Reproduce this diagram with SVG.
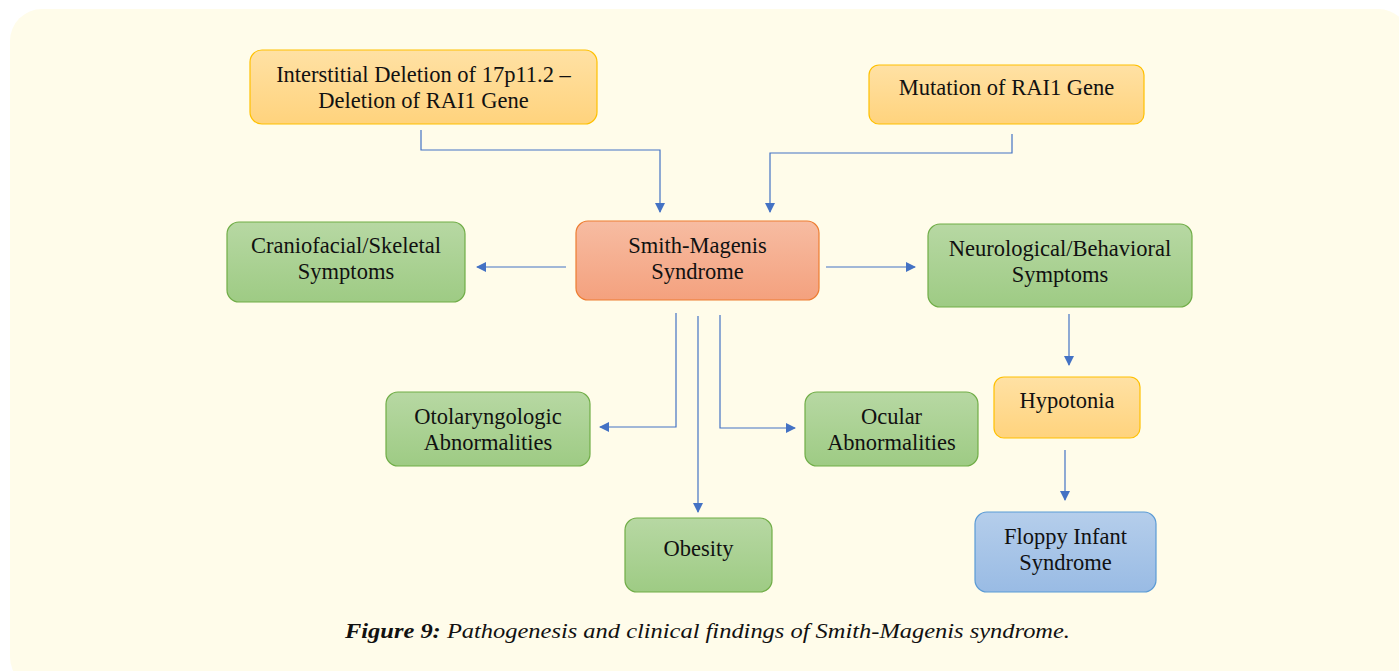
<svg xmlns="http://www.w3.org/2000/svg" width="1399" height="671" viewBox="0 0 1399 671">
  <defs>
    <linearGradient id="gOrange" x1="0" y1="0" x2="0" y2="1">
      <stop offset="0" stop-color="#FFE1A4"/>
      <stop offset="1" stop-color="#FFD37D"/>
    </linearGradient>
    <linearGradient id="gRed" x1="0" y1="0" x2="0" y2="1">
      <stop offset="0" stop-color="#F7BCA2"/>
      <stop offset="1" stop-color="#F4A17E"/>
    </linearGradient>
    <linearGradient id="gGreen" x1="0" y1="0" x2="0" y2="1">
      <stop offset="0" stop-color="#B7D8A3"/>
      <stop offset="1" stop-color="#9ECB84"/>
    </linearGradient>
    <linearGradient id="gBlue" x1="0" y1="0" x2="0" y2="1">
      <stop offset="0" stop-color="#B5CEEB"/>
      <stop offset="1" stop-color="#99BBE4"/>
    </linearGradient>
    <marker id="arrow" viewBox="0 0 10 10" refX="9" refY="5" markerWidth="10" markerHeight="10" markerUnits="userSpaceOnUse" orient="auto">
      <path d="M0,0 L10,5 L0,10 z" fill="#4472C4"/>
    </marker>
  </defs>
  <style>
    .box { stroke-width: 1.2; }
    .orange { fill: url(#gOrange); stroke: #FFC000; }
    .red { fill: url(#gRed); stroke: #ED7D31; }
    .green { fill: url(#gGreen); stroke: #70AD47; }
    .blue { fill: url(#gBlue); stroke: #5B9BD5; }
    .lbl { font-family: "Liberation Serif", "Times New Roman", serif; font-size: 22.5px; fill: #111; text-anchor: middle; }
    .conn { fill: none; stroke: #4472C4; stroke-width: 1.2; marker-end: url(#arrow); }
    .cap { font-family: "Liberation Serif", serif; font-size: 22px; font-style: italic; fill: #111; }
  </style>

  <rect width="1399" height="671" fill="#FFFFFF"/>
  <rect x="10" y="9" width="1400" height="680" rx="32" fill="#FFFCEA"/>

  <g id="connectors">
    <path class="conn" d="M421,130 V150 H660 V212"/>
    <path class="conn" d="M1012,134 V153 H770 V212"/>
    <path class="conn" d="M566,267 H477"/>
    <path class="conn" d="M826,267 H915"/>
    <path class="conn" d="M1069,314 V365"/>
    <path class="conn" d="M1065,450 V500"/>
    <path class="conn" d="M676,313 V427 H600"/>
    <path class="conn" d="M698,316 V512"/>
    <path class="conn" d="M720,315 V428 H795"/>
  </g>

  <g id="node-deletion">
    <rect class="box orange" x="250" y="50" width="347" height="74" rx="12"/>
    <text class="lbl" x="423.5" y="82">Interstitial Deletion of 17p11.2 –</text>
    <text class="lbl" x="423.5" y="108">Deletion of RAI1 Gene</text>
  </g>
  <g id="node-mutation">
    <rect class="box orange" x="869" y="65" width="275" height="59" rx="10"/>
    <text class="lbl" x="1006.5" y="95">Mutation of RAI1 Gene</text>
  </g>
  <g id="node-sms">
    <rect class="box red" x="576" y="221" width="243" height="79" rx="12"/>
    <text class="lbl" x="697.5" y="253">Smith-Magenis</text>
    <text class="lbl" x="697.5" y="279">Syndrome</text>
  </g>
  <g id="node-craniofacial">
    <rect class="box green" x="227" y="222" width="238" height="80" rx="12"/>
    <text class="lbl" x="346" y="253">Craniofacial/Skeletal</text>
    <text class="lbl" x="346" y="279">Symptoms</text>
  </g>
  <g id="node-neuro">
    <rect class="box green" x="928" y="224" width="264" height="83" rx="12"/>
    <text class="lbl" x="1060" y="256">Neurological/Behavioral</text>
    <text class="lbl" x="1060" y="282">Symptoms</text>
  </g>
  <g id="node-hypotonia">
    <rect class="box orange" x="994" y="377" width="146" height="61" rx="10"/>
    <text class="lbl" x="1067" y="408">Hypotonia</text>
  </g>
  <g id="node-otolaryngologic">
    <rect class="box green" x="386" y="392" width="204" height="74" rx="12"/>
    <text class="lbl" x="488" y="424">Otolaryngologic</text>
    <text class="lbl" x="488" y="450">Abnormalities</text>
  </g>
  <g id="node-ocular">
    <rect class="box green" x="805" y="392" width="173" height="74" rx="12"/>
    <text class="lbl" x="891.5" y="424">Ocular</text>
    <text class="lbl" x="891.5" y="450">Abnormalities</text>
  </g>
  <g id="node-obesity">
    <rect class="box green" x="625" y="518" width="147" height="74" rx="12"/>
    <text class="lbl" x="698.5" y="556">Obesity</text>
  </g>
  <g id="node-floppy">
    <rect class="box blue" x="975" y="512" width="181" height="80" rx="12"/>
    <text class="lbl" x="1065.5" y="544">Floppy Infant</text>
    <text class="lbl" x="1065.5" y="570">Syndrome</text>
  </g>

  <text class="cap" x="345" y="638" textLength="725" lengthAdjust="spacingAndGlyphs"><tspan font-weight="bold">Figure 9:</tspan> Pathogenesis and clinical findings of Smith-Magenis syndrome.</text>
</svg>
